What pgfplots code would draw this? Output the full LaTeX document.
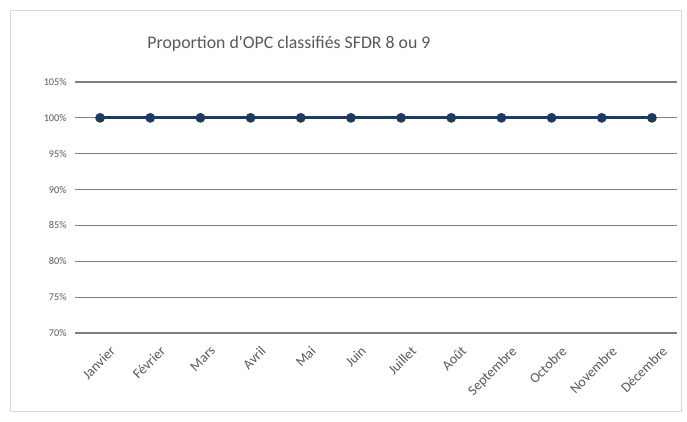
\documentclass[border=0pt]{standalone}
\usepackage{pgfplots}
\pgfplotsset{compat=1.18}
\usepackage{fontspec}
\setmainfont{Carlito}
\definecolor{txtc}{HTML}{595959}
\definecolor{gridc}{HTML}{7F7F7F}
\definecolor{navyc}{HTML}{1F3A5F}
\begin{document}
\begin{tikzpicture}[x=1pt,y=1pt]
\fill[white] (0,0) rectangle (687,421);
\draw[gray!30, line width=0.8pt] (10,10) rectangle (681,411);
\node[text=txtc, font=\fontsize{17.8}{19}\selectfont] at (289,377) {Proportion d\textquotesingle OPC classifiés SFDR 8 ou 9};
\begin{axis}[
  at={(75pt,88pt)}, anchor=south west,
  scale only axis, width=602pt, height=251pt,
  xmin=-0.5, xmax=11.5, ymin=70, ymax=105,
  axis line style={draw=none},
  ytick={70,75,...,105},
  yticklabel={\pgfmathprintnumber{\tick}\%},
  yticklabel style={text=txtc, font=\fontsize{10.3}{12}\selectfont, /pgf/number format/assume math mode=true, inner sep=0pt, xshift=-8pt},
  xtick={0,...,11},
  xticklabels={Janvier,Février,Mars,Avril,Mai,Juin,Juillet,Août,Septembre,Octobre,Novembre,Décembre},
  xticklabel style={text=txtc, font=\fontsize{14}{15}\selectfont, rotate=45, anchor=north east, inner sep=0pt, xshift=-2pt, yshift=-15pt},
  major tick length=0pt,
  xmajorgrids=false, ymajorgrids=true,
  grid style={draw=gridc, line width=1.1pt},
  clip=false,
]
\addplot[navyc, line width=2.8pt, mark=*, mark size=3.4pt, mark options={fill=navyc, draw=navyc}]
coordinates {(0,100)(1,100)(2,100)(3,100)(4,100)(5,100)(6,100)(7,100)(8,100)(9,100)(10,100)(11,100)};
\end{axis}
\end{tikzpicture}
\end{document}
